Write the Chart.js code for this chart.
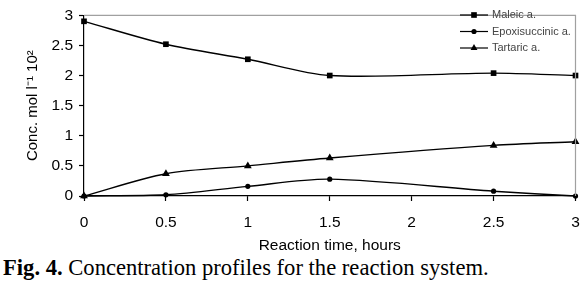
<!DOCTYPE html>
<html>
<head>
<meta charset="utf-8">
<script src="https://cdn.jsdelivr.net/npm/chart.js@4.4.0/dist/chart.umd.min.js"></script>
<style>
  body { margin: 0; background: #fff; width: 580px; height: 295px; overflow: hidden; }
  #wrap { position: relative; width: 580px; height: 255px; }
  #caption { font-family: "Liberation Serif", "Times New Roman", serif; font-size: 22.6px; margin: 0 0 0 3px; color: #000; white-space: nowrap; line-height: 26px; }
</style>
</head>
<body>
<div id="wrap"><canvas id="chart" width="580" height="255"></canvas></div>
<div id="caption"><b>Fig. 4.</b> Concentration profiles for the reaction system.</div>
<script>
// reaction time, hours
const times = [0, 0.5, 1, 1.5, 2.5, 3];
const maleic = [2.9, 2.52, 2.27, 2.0, 2.04, 2.0];
const epoxisuccinic = [0.0, 0.02, 0.16, 0.28, 0.08, 0.0];
const tartaric = [0.0, 0.37, 0.5, 0.63, 0.84, 0.9];
const seriesNames = ['Maleic a.', 'Epoxisuccinic a.', 'Tartaric a.'];
const xTicks = [0, 0.5, 1, 1.5, 2, 2.5, 3];
const yTicks = [0, 0.5, 1, 1.5, 2, 2.5, 3];

const pts = (ys) => times.map((t, i) => ({ x: t, y: ys[i] }));

function mkSet(label, ys, style, r) {
    return {
        label: label,
        data: pts(ys),
        borderColor: '#000',
        backgroundColor: '#000',
        borderWidth: 1.4,
        pointStyle: style,
        pointRadius: r,
        pointBorderWidth: 0,
        tension: 0.3,
        clip: false
    };
}

// grey frame on top and right, plus the small legend in the corner
const framePlugin = {
    id: 'frame',
    afterDraw(chart) {
        const { ctx, chartArea: a } = chart;
        ctx.save();
        ctx.strokeStyle = '#a0a0a0';
        ctx.lineWidth = 1.2;
        ctx.beginPath();
        ctx.moveTo(a.left, a.top);
        ctx.lineTo(a.right, a.top);
        ctx.lineTo(a.right, a.bottom);
        ctx.stroke();

        const styles = ['rect', 'circle', 'triangle'];
        const radii = [4, 2.6, 4];
        ctx.font = '11px "Liberation Sans", Arial, sans-serif';
        ctx.textBaseline = 'middle';
        chart.data.datasets.forEach((ds, i) => {
            const y = 15 + i * 16.5;
            ctx.strokeStyle = '#000';
            ctx.lineWidth = 1.2;
            ctx.beginPath();
            ctx.moveTo(460, y);
            ctx.lineTo(488, y);
            ctx.stroke();
            ctx.fillStyle = '#000';
            Chart.helpers.drawPoint(ctx, { pointStyle: styles[i], radius: radii[i], borderWidth: 0 }, 474, y);
            ctx.fillStyle = '#444';
            ctx.fillText(ds.label, 492, y);
        });
        ctx.restore();
    }
};

const fontFam = '"Liberation Sans", Arial, sans-serif';

new Chart(document.getElementById('chart'), {
    type: 'line',
    data: {
        datasets: [
            mkSet(seriesNames[0], maleic, 'rect', 4),
            mkSet(seriesNames[1], epoxisuccinic, 'circle', 2.6),
            mkSet(seriesNames[2], tartaric, 'triangle', 4.5)
        ]
    },
    options: {
        responsive: false,
        animation: false,
        layout: { padding: { top: 5, right: 4, left: 24, bottom: 0 } },
        plugins: {
            legend: { display: false },
            tooltip: { enabled: false }
        },
        scales: {
            x: {
                type: 'linear',
                min: 0,
                max: 3,
                afterBuildTicks: (s) => { s.ticks = xTicks.map(v => ({ value: v })); },
                ticks: {
                    color: '#000',
                    font: { family: fontFam, size: 15.5 },
                    padding: 12,
                    maxRotation: 0,
                    autoSkip: false,
                    callback: (v) => String(v)
                },
                grid: { drawOnChartArea: false, tickLength: 5, tickColor: '#000', tickWidth: 1.2 },
                border: { color: '#000', width: 1.2 },
                title: {
                    display: true,
                    text: 'Reaction time, hours',
                    color: '#000',
                    font: { family: fontFam, size: 15.5 },
                    padding: { top: 8, bottom: 0 }
                },
                afterFit: (s) => { s.height = 59; s.paddingLeft = 0; s.paddingRight = 0; }
            },
            y: {
                min: 0,
                max: 3,
                afterBuildTicks: (s) => { s.ticks = yTicks.map(v => ({ value: v })); },
                ticks: {
                    color: '#000',
                    font: { family: fontFam, size: 15.5 },
                    padding: 6,
                    autoSkip: false,
                    callback: (v) => String(v)
                },
                grid: { drawOnChartArea: false, tickLength: 5, tickColor: '#000', tickWidth: 1.2 },
                border: { color: '#000', width: 1.2 },
                title: {
                    display: true,
                    text: 'Conc. mol l\u207B\u00B9 10\u00B2',
                    color: '#000',
                    font: { family: fontFam, size: 15 },
                    padding: { top: 0, bottom: 6 }
                },
                afterFit: (s) => { s.width = 60; }
            }
        }
    },
    plugins: [framePlugin]
});
</script>
</body>
</html>
